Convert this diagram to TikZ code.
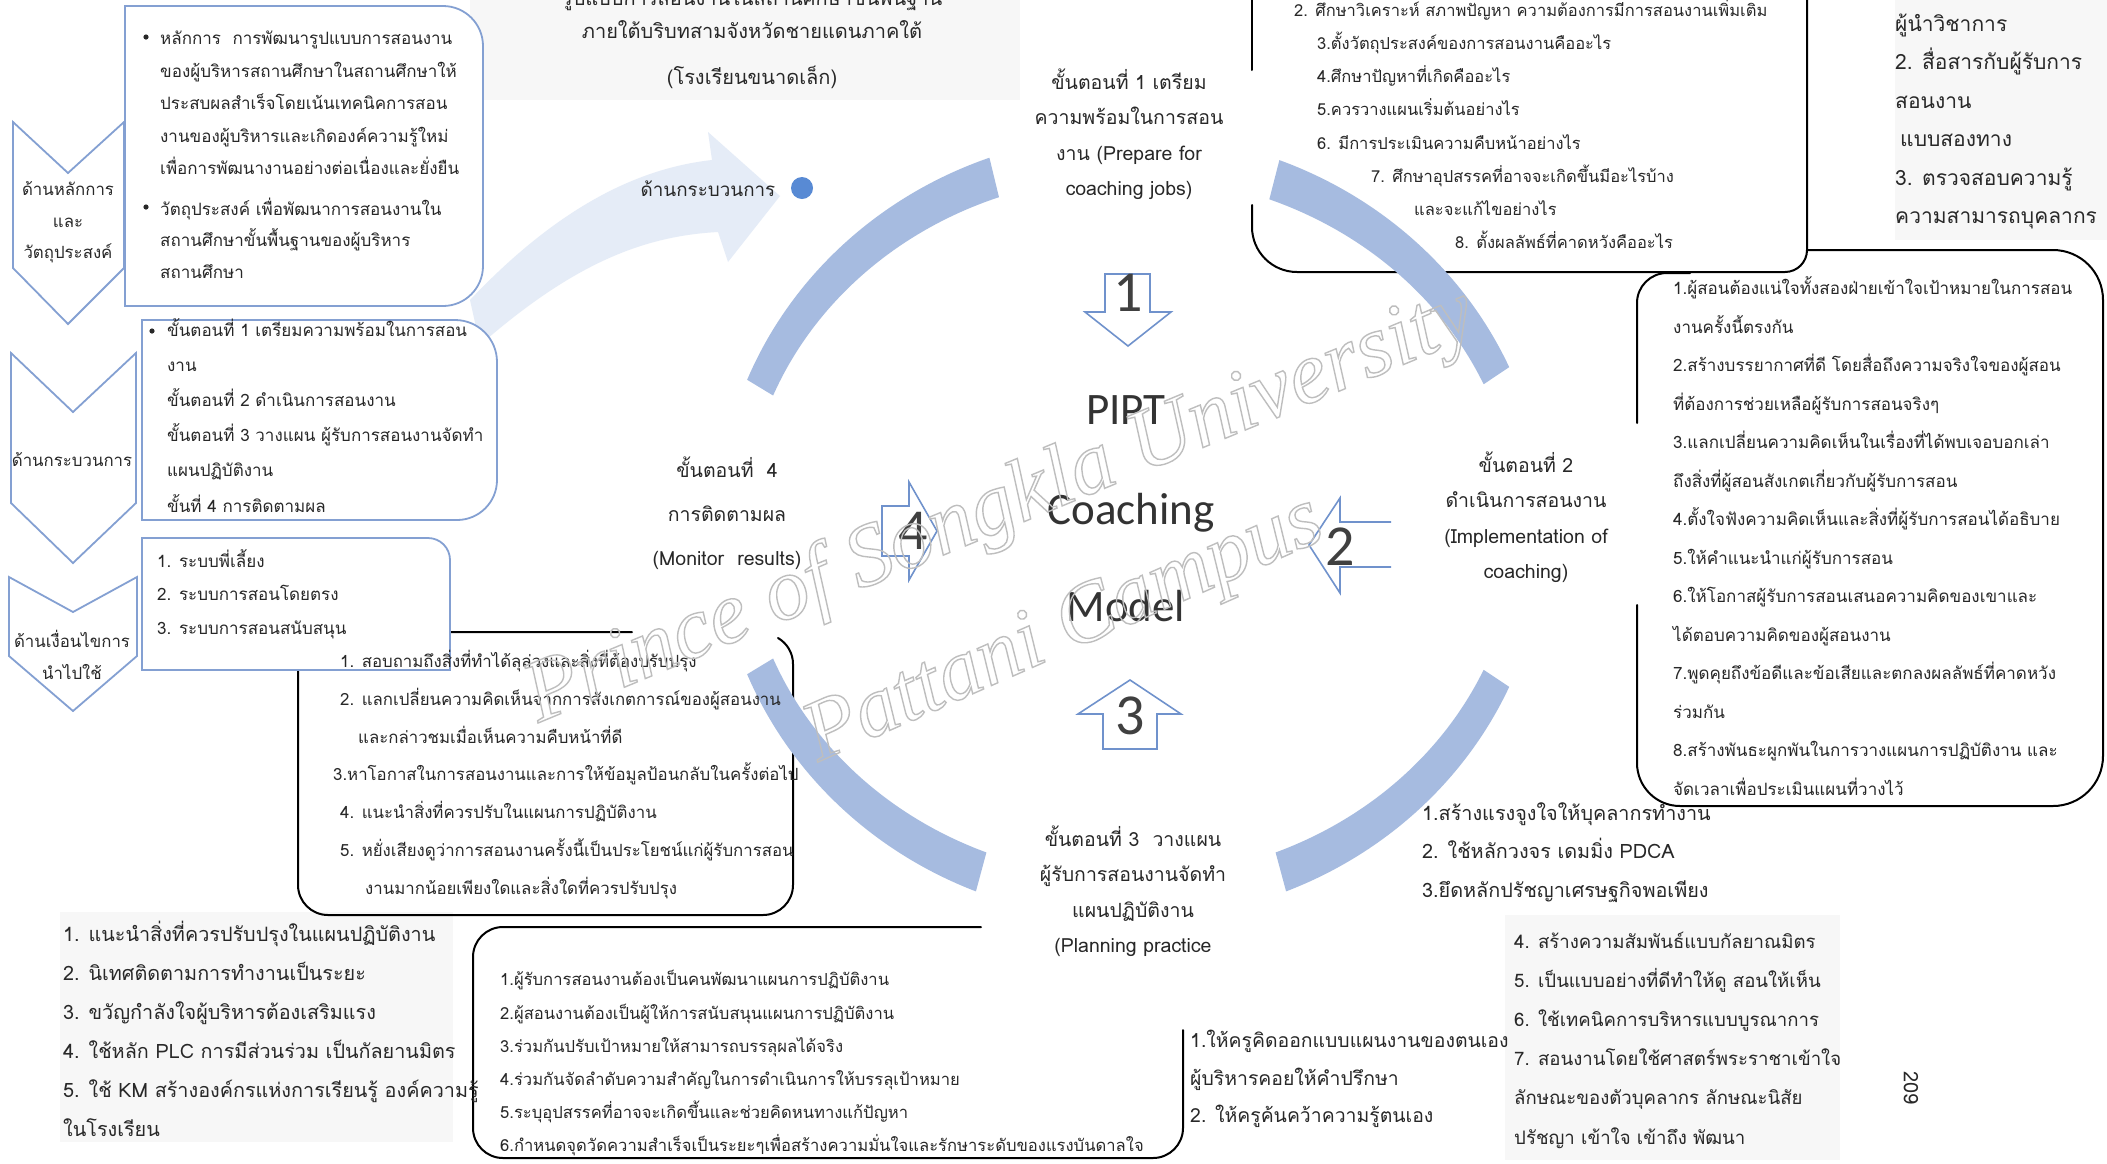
\documentclass[tikz,border=0pt]{standalone}
\usepackage{fontspec}
\setmainfont[Script=Thai]{Loma}
\newfontfamily\latinfont{Carlito}
\newfontfamily\markfont{Liberation Serif}
\usetikzlibrary{calc}
\definecolor{boxblue}{RGB}{132,160,210}
\definecolor{arcblue}{RGB}{166,187,224}
\definecolor{flowblue}{RGB}{229,236,247}
\definecolor{dotblue}{RGB}{88,138,212}
\definecolor{numblue}{RGB}{112,146,204}
\definecolor{inktext}{RGB}{40,40,40}
\definecolor{scanpatch}{RGB}{247,247,247}
\definecolor{markgray}{RGB}{190,190,190}
\newcommand\fsz[2]{\fontsize{#1}{#2}\selectfont}
\newcommand\outlinetext[1]{\special{pdf:literal 1 Tr 1.4 w}#1\special{pdf:literal 0 Tr}}
% one filled band of the cycle ring, between two angles
\newcommand\ringband[2]{\fill[arcblue] ($(C)+(#1:414 and 393)$) arc[start angle=#1, end angle=#2, x radius=414, y radius=393] -- ($(C)+(#2:386 and 351)$) arc[start angle=#2, end angle=#1, x radius=386, y radius=351] -- cycle;}
\begin{document}
\begin{tikzpicture}[x=1pt,y=-1pt,
  txtblock/.style 2 args={font=\fsz{#1}{#2}, anchor=north west, inner sep=0pt, align=left, text=inktext, yshift={(0.7*#2-0.27*#1)*1pt}, execute at begin node=\strut},
  ctrblock/.style 2 args={txtblock={#1}{#2}, anchor=north, align=center},
  bluebox/.style={draw=boxblue, line width=1.8pt, fill=white},
  inkbox/.style={draw=black, line width=2pt, line cap=round},
  numarrow/.style={draw=numblue, line width=1.6pt, fill=white, line join=miter},
  numlabel/.style={font=\latinfont\fsz{58}{60}, text=black!75, inner sep=0pt},
  bigword/.style={font=\latinfont\fsz{45}{50}, text=black!80, inner sep=0pt, anchor=base},
  watermark/.style={font=\markfont\itshape\fsz{#1}{#1}, text=markgray, inner sep=0pt}
]
\useasboundingbox (0,0) rectangle (2107,1163);
\clip (0,0) rectangle (2107,1163);
\fill[white] (0,0) rectangle (2107,1163);

% faint scanned patches behind some text groups
\fill[scanpatch] (470,0) rectangle (1020,100);
\fill[scanpatch] (60,912) rectangle (453,1142);
\fill[scanpatch] (1895,0) rectangle (2107,240);
\fill[scanpatch] (1505,915) rectangle (1840,1160);

% wide curved arrow leading from the process box
\fill[flowblue] (470,300) .. controls (560,205) and (640,168) .. (712,160) -- (708,132) -- (780,196) -- (728,262) -- (718,232) .. controls (645,236) and (575,262) .. (480,345) -- cycle;
\fill[dotblue] (802,188) circle (11);

% chevrons on the left
\draw[bluebox] (13,122) -- (68,173) -- (124,122) -- (124,268) -- (68,324) -- (13,268) -- cycle;
\draw[bluebox] (11,353) -- (73,412) -- (136,353) -- (136,503) -- (73,563) -- (11,503) -- cycle;
\draw[bluebox] (9,577) -- (73,612) -- (137,577) -- (137,656) -- (73,711) -- (9,656) -- cycle;

% follow-up details box (stage 4)
\draw[inkbox] (632,632) -- (298,632) -- (298,885) arc[start angle=180,end angle=90,radius=30] -- (763,915) arc[start angle=90,end angle=0,radius=30] -- (793,664) arc[start angle=0,end angle=-60,radius=30];

% blue boxes on the left
\draw[bluebox] (125,6) -- (443,6) arc[start angle=-90,end angle=0,radius=40] -- (483,266) arc[start angle=0,end angle=90,radius=40] -- (125,306) -- cycle;
\draw[bluebox] (142,320) -- (455,320) arc[start angle=-90,end angle=0,radius=42] -- (497,480) arc[start angle=0,end angle=90,radius=40] -- (142,520) -- cycle;
\draw[bluebox] (142,538) -- (428,538) arc[start angle=-90,end angle=0,radius=22] -- (450,670) -- (142,670) -- cycle;

% planning details box (stage 3)
\draw[inkbox] (981,927) -- (503,927) arc[start angle=-90,end angle=-180,radius=30] -- (473,1128) arc[start angle=180,end angle=90,radius=30] -- (1153,1158) arc[start angle=90,end angle=0,radius=30] -- (1183,1030);

% preparation details box (stage 1)
\draw[inkbox] (1252,-5) -- (1252,70);
\draw[inkbox] (1252,205) -- (1252,227) arc[start angle=180,end angle=90,radius=45] -- (1785,272) arc[start angle=90,end angle=0,radius=22] -- (1807,-5);

% implementation details box (stage 2)
\draw[inkbox] (1807,250) -- (2053,250) arc[start angle=-90,end angle=0,radius=50] -- (2103,756) arc[start angle=0,end angle=90,radius=50] -- (1680,806) arc[start angle=90,end angle=180,radius=43] -- (1637,605);
\draw[inkbox] (1637,423) -- (1637,303) arc[start angle=180,end angle=270,radius=30] -- (1690,273);

% cycle ring
\coordinate (C) at (1131,527);
\ringband{202}{250}
\ringband{291}{336}
\ringband{24}{68}
\ringband{112}{158}

% numbered block arrows
\draw[numarrow] (1105,274) -- (1150,274) -- (1150,312) -- (1171,312) -- (1128,346) -- (1085,312) -- (1105,312) -- cycle;
\draw[numarrow] (1130,680) -- (1181,714) -- (1157,714) -- (1157,749) -- (1103,749) -- (1103,714) -- (1078,714) -- cycle;
\draw[numarrow] (1391,522) -- (1340,522) -- (1340,498) -- (1309,545) -- (1340,593) -- (1340,567) -- (1391,567);
\draw[numarrow] (882,506) -- (909,506) -- (909,482) -- (937,531) -- (909,580) -- (909,556) -- (882,556) -- cycle;
\node[numlabel] (n1) at (1128,293) {1};
\node[numlabel] (n2) at (1340,547) {2};
\node[numlabel] (n3) at (1130,716) {3};
\node[numlabel] (n4) at (913,531) {4};

% model name
\node[bigword] (pipt) at (1126,424) {PIPT};
\node[bigword] (coach) at (1131,524) {Coaching};
\node[bigword] (model) at (1126,621) {Model};

% title
\node[ctrblock={20}{30}] (title1) at (752,0) {รูปแบบการสอนงานในสถานศึกษาขั้นพื้นฐาน};
\node[ctrblock={20}{30}] (title2) at (752,33) {ภายใต้บริบทสามจังหวัดชายแดนภาคใต้};
\node[ctrblock={20}{30}] (title3) at (752,79) {(โรงเรียนขนาดเล็ก)};
\node[ctrblock={18.8}{30}] (proc) at (708,191) {ด้านกระบวนการ};

% chevron captions
\node[ctrblock={16.8}{31.5}] (cv1) at (68,199) {ด้านหลักการ\\และ\\วัตถุประสงค์};
\node[ctrblock={16.8}{30}] (cv2) at (72,462) {ด้านกระบวนการ};
\node[ctrblock={16.8}{32}] (cv3) at (72,648) {ด้านเงื่อนไขการ\\นำไปใช้};

% left box contents
\fill[inktext] (146,37) circle (2.6);
\fill[inktext] (146,207) circle (2.6);
\fill[inktext] (152,331) circle (2.6);
\node[txtblock={17}{32.5}] (ta1) at (160,49) {หลักการ~~การพัฒนารูปแบบการสอนงาน\\ของผู้บริหารสถานศึกษาในสถานศึกษาให้\\ประสบผลสำเร็จโดยเน้นเทคนิคการสอน\\งานของผู้บริหารและเกิดองค์ความรู้ใหม่\\เพื่อการพัฒนางานอย่างต่อเนื่องและยั่งยืน};
\node[txtblock={17}{31.5}] (ta2) at (160,215) {วัตถุประสงค์ เพื่อพัฒนาการสอนงานใน\\สถานศึกษาขั้นพื้นฐานของผู้บริหาร\\สถานศึกษา};
\node[txtblock={17}{35.2}] (tb) at (167,338) {ขั้นตอนที่ 1 เตรียมความพร้อมในการสอน\\งาน\\ขั้นตอนที่ 2 ดำเนินการสอนงาน\\ขั้นตอนที่ 3 วางแผน ผู้รับการสอนงานจัดทำ\\แผนปฏิบัติงาน\\ขั้นที่ 4 การติดตามผล};
\node[txtblock={17}{33.5}] (tc) at (157,568) {1. ระบบพี่เลี้ยง\\2. ระบบการสอนโดยตรง\\3. ระบบการสอนสนับสนุน};

% stage 4 details
\node[txtblock={16.8}{37.8}] (td) at (333,672) {\hspace*{7pt}1. สอบถามถึงสิ่งที่ทำได้ลุล่วงและสิ่งที่ต้องปรับปรุง\\\hspace*{7pt}2. แลกเปลี่ยนความคิดเห็นจากการสังเกตการณ์ของผู้สอนงาน\\\hspace*{25pt}และกล่าวชมเมื่อเห็นความคืบหน้าที่ดี\\3.หาโอกาสในการสอนงานและการให้ข้อมูลป้อนกลับในครั้งต่อไป\\\hspace*{7pt}4. แนะนำสิ่งที่ควรปรับในแผนการปฏิบัติงาน\\\hspace*{7pt}5. หยั่งเสียงดูว่าการสอนงานครั้งนี้เป็นประโยชน์แก่ผู้รับการสอน\\\hspace*{32pt}งานมากน้อยเพียงใดและสิ่งใดที่ควรปรับปรุง};

% bottom left list
\node[txtblock={19.8}{39}] (tbl) at (63,943) {1. แนะนำสิ่งที่ควรปรับปรุงในแผนปฏิบัติงาน\\2. นิเทศติดตามการทำงานเป็นระยะ\\3. ขวัญกำลังใจผู้บริหารต้องเสริมแรง\\4. ใช้หลัก PLC การมีส่วนร่วม เป็นกัลยานมิตร\\5. ใช้ KM สร้างองค์กรแห่งการเรียนรู้ องค์ความรู้\\ในโรงเรียน};

% stage 3 details
\node[txtblock={16.6}{33.2}] (te) at (500,989) {1.ผู้รับการสอนงานต้องเป็นคนพัฒนาแผนการปฏิบัติงาน\\2.ผู้สอนงานต้องเป็นผู้ให้การสนับสนุนแผนการปฏิบัติงาน\\3.ร่วมกันปรับเป้าหมายให้สามารถบรรลุผลได้จริง\\4.ร่วมกันจัดลำดับความสำคัญในการดำเนินการให้บรรลุเป้าหมาย\\5.ระบุอุปสรรคที่อาจจะเกิดขึ้นและช่วยคิดหนทางแก้ปัญหา\\6.กำหนดจุดวัดความสำเร็จเป็นระยะๆเพื่อสร้างความมั่นใจและรักษาระดับของแรงบันดาลใจ};

% bottom right lists
\node[txtblock={19.4}{37.5}] (tf) at (1190,1051) {1.ให้ครูคิดออกแบบแผนงานของตนเอง\\ผู้บริหารคอยให้คำปรึกษา\\2. ให้ครูค้นคว้าความรู้ตนเอง};
\node[txtblock={19.8}{38.5}] (tj) at (1422,824) {1.สร้างแรงจูงใจให้บุคลากรทำงาน\\2. ใช้หลักวงจร เดมมิ่ง PDCA\\3.ยึดหลักปรัชญาเศรษฐกิจพอเพียง};
\node[txtblock={18.6}{39.2}] (tk) at (1514,954) {4. สร้างความสัมพันธ์แบบกัลยาณมิตร\\5. เป็นแบบอย่างที่ดีทำให้ดู สอนให้เห็น\\6. ใช้เทคนิคการบริหารแบบบูรณาการ\\7. สอนงานโดยใช้ศาสตร์พระราชาเข้าใจ\\ลักษณะของตัวบุคลากร ลักษณะนิสัย\\ปรัชญา เข้าใจ เข้าถึง พัฒนา};

% stage 2 details
\node[txtblock={17}{38.5}] (tg) at (1673,299) {1.ผู้สอนต้องแน่ใจทั้งสองฝ่ายเข้าใจเป้าหมายในการสอน\\งานครั้งนี้ตรงกัน\\2.สร้างบรรยากาศที่ดี โดยสื่อถึงความจริงใจของผู้สอน\\ที่ต้องการช่วยเหลือผู้รับการสอนจริงๆ\\3.แลกเปลี่ยนความคิดเห็นในเรื่องที่ได้พบเจอบอกเล่า\\ถึงสิ่งที่ผู้สอนสังเกตเกี่ยวกับผู้รับการสอน\\4.ตั้งใจฟังความคิดเห็นและสิ่งที่ผู้รับการสอนได้อธิบาย\\5.ให้คำแนะนำแก่ผู้รับการสอน\\6.ให้โอกาสผู้รับการสอนเสนอความคิดของเขาและ\\ได้ตอบความคิดของผู้สอนงาน\\7.พูดคุยถึงข้อดีและข้อเสียและตกลงผลลัพธ์ที่คาดหวัง\\ร่วมกัน\\8.สร้างพันธะผูกพันในการวางแผนการปฏิบัติงาน และ\\จัดเวลาเพื่อประเมินแผนที่วางไว้};

% stage 1 details
\node[txtblock={16.5}{33.2}] (th) at (1294,18) {2. ศึกษาวิเคราะห์ สภาพปัญหา ความต้องการมีการสอนงานเพิ่มเติม\\\hspace*{23pt}3.ตั้งวัตถุประสงค์ของการสอนงานคืออะไร\\\hspace*{23pt}4.ศึกษาปัญหาที่เกิดคืออะไร\\\hspace*{23pt}5.ควรวางแผนเริ่มต้นอย่างไร\\\hspace*{23pt}6. มีการประเมินความคืบหน้าอย่างไร\\\hspace*{77pt}7. ศึกษาอุปสรรคที่อาจจะเกิดขึ้นมีอะไรบ้าง\\\hspace*{120pt}และจะแก้ไขอย่างไร\\\hspace*{161pt}8. ตั้งผลลัพธ์ที่คาดหวังคืออะไร};

% top right list
\node[txtblock={21}{38.4}] (ti) at (1895,35) {ผู้นำวิชาการ\\2. สื่อสารกับผู้รับการ\\สอนงาน\\\hspace*{5pt}แบบสองทาง\\3. ตรวจสอบความรู้\\ความสามารถบุคลากร};

% stage captions around the ring
\node[ctrblock={19.5}{35.3}] (s1) at (1129,88) {ขั้นตอนที่ 1 เตรียม\\ความพร้อมในการสอน\\งาน (Prepare for\\coaching jobs)};
\node[ctrblock={19.5}{35.3}] (s2) at (1526,471) {ขั้นตอนที่ 2\\ดำเนินการสอนงาน\\(Implementation of\\coaching)};
\node[ctrblock={19.5}{35.3}] (s3) at (1133,845) {ขั้นตอนที่ 3~~วางแผน\\ผู้รับการสอนงานจัดทำ\\แผนปฏิบัติงาน\\(Planning practice};
\node[ctrblock={19.5}{44}] (s4) at (727,482) {ขั้นตอนที่~~4\\การติดตามผล\\(Monitor~~results)};

% page number
\node[font=\fsz{20}{24}, text=inktext, rotate=-90, inner sep=0pt] (pageno) at (1911,1088) {209};

% watermark
\node[watermark=88, rotate=22.5] (wm1) at (1001,508) {\outlinetext{Prince of Songkla University}};
\node[watermark=86, rotate=23.8] (wm2) at (1065,632) {\outlinetext{Pattani Campus}};
\end{tikzpicture}
\end{document}
